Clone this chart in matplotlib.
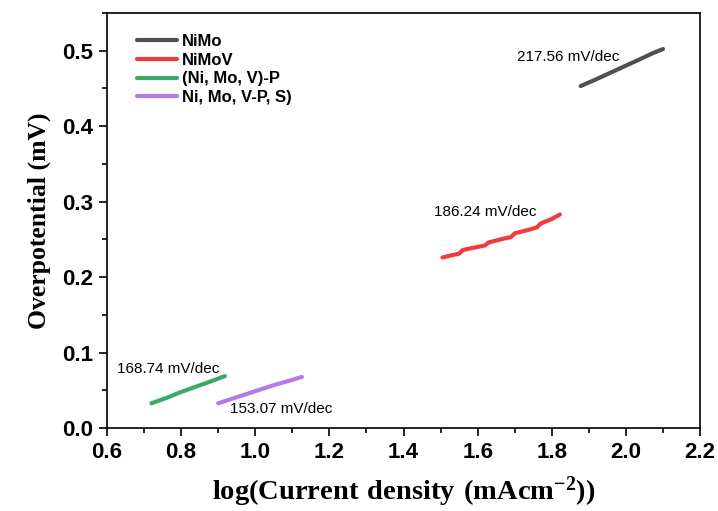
import matplotlib
matplotlib.use("Agg")
import matplotlib.pyplot as plt
from matplotlib.ticker import MultipleLocator

plt.rcParams["mathtext.fontset"] = "custom"
plt.rcParams["mathtext.rm"] = "Liberation Serif"
plt.rcParams["mathtext.bf"] = "Liberation Serif:bold"

nimo_x = [1.878, 1.92, 1.96, 2.00, 2.04, 2.07, 2.10]
nimo_y = [0.453, 0.462, 0.471, 0.480, 0.489, 0.496, 0.502]

nimov_x = [1.505, 1.53, 1.55, 1.56, 1.60, 1.62, 1.63, 1.67, 1.69, 1.70, 1.74, 1.76, 1.77, 1.80, 1.822]
nimov_y = [0.226, 0.229, 0.231, 0.236, 0.240, 0.242, 0.246, 0.251, 0.253, 0.258, 0.263, 0.266, 0.271, 0.277, 0.283]

nimovp_x = [0.72, 0.76, 0.80, 0.84, 0.88, 0.918]
nimovp_y = [0.033, 0.040, 0.048, 0.055, 0.062, 0.069]

nimovps_x = [0.90, 0.95, 1.00, 1.05, 1.10, 1.126]
nimovps_y = [0.033, 0.041, 0.049, 0.057, 0.064, 0.068]

labels = ["NiMo", "NiMoV", "(Ni, Mo, V)-P", "Ni, Mo, V-P, S)"]
colors = ["#505050", "#f03c3c", "#3aaa66", "#b07ce6"]
slopes = ["217.56 mV/dec", "186.24 mV/dec", "168.74 mV/dec", "153.07 mV/dec"]
slope_pos = [(1.706, 0.491), (1.482, 0.286), (0.627, 0.079), (0.932, 0.026)]

fig = plt.figure(figsize=(7.18, 5.11), dpi=100)
ax = fig.add_axes([0.149, 0.162, 0.826, 0.813])

series = [(nimo_x, nimo_y), (nimov_x, nimov_y), (nimovp_x, nimovp_y), (nimovps_x, nimovps_y)]
for (x, y), lab, c in zip(series, labels, colors):
    ax.plot(x, y, color=c, lw=3, label=lab, solid_capstyle="round")

for txt, (tx, ty) in zip(slopes, slope_pos):
    ax.text(tx, ty, txt, fontsize=11, family="Liberation Sans", va="center", ha="left")

ax.set_xlim(0.6, 2.2)
ax.set_ylim(0, 0.55)
ax.xaxis.set_major_locator(MultipleLocator(0.2))
ax.xaxis.set_minor_locator(MultipleLocator(0.1))
ax.yaxis.set_major_locator(MultipleLocator(0.1))
ax.yaxis.set_minor_locator(MultipleLocator(0.05))
ax.tick_params(which="both", direction="out", width=1.2)
ax.tick_params(which="major", length=6, pad=4)
ax.tick_params(which="minor", length=3.5)
for lbl in ax.get_xticklabels() + ax.get_yticklabels():
    lbl.set_fontfamily("Liberation Sans")
    lbl.set_fontweight("bold")
    lbl.set_fontsize(16)
for s in ax.spines.values():
    s.set_linewidth(1.2)

ax.set_xlabel(r"$\mathbf{log(Current\ density\ (mAcm^{-2}))}$", fontsize=20.5,
              labelpad=8)
ax.set_ylabel("Overpotential (mV)", fontsize=18.5, family="Liberation Serif",
              fontweight="bold", labelpad=8)

leg = ax.legend(loc="upper left", bbox_to_anchor=(0.025, 0.985), frameon=False,
                prop={"family": "Liberation Sans", "weight": "bold", "size": 12},
                handlelength=2.4, labelspacing=0.22, handletextpad=0.3)

fig.savefig("out.png", dpi=100)
